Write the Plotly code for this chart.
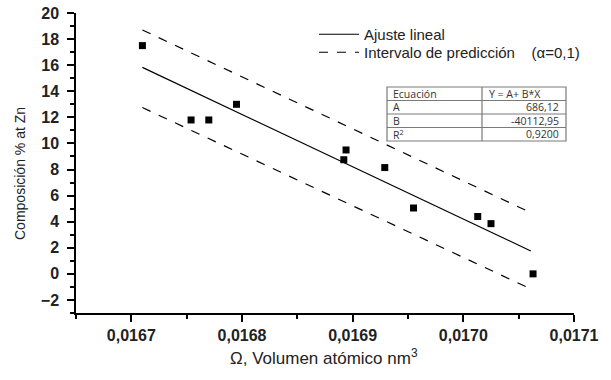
import plotly.graph_objects as go

# Data
omega = [0.016710, 0.016754, 0.016770, 0.016795, 0.016894, 0.016892,
         0.016929, 0.016955, 0.017013, 0.017025, 0.017063]
comp_zn = [17.5, 11.8, 11.8, 13.0, 9.5, 8.75, 8.15, 5.05, 4.4, 3.85, 0.0]

fit_A = 686.12
fit_B = -40112.95
fit_R2 = 0.9200
fit_x = [0.01671, 0.017061]
fit_y = [fit_A + fit_B * x for x in fit_x]

band_x = [0.01671, 0.017057]
band_upper = [18.7, 4.85]
band_lower = [12.75, -1.0]

x_ticks = [0.0167, 0.0168, 0.0169, 0.0170, 0.0171]
y_ticks = list(range(-2, 21, 2))

table_rows = [("Ecuación", "Y = A+ B*X"),
              ("A", "686,12"),
              ("B", "-40112,95"),
              ("R<sup>2</sup>", "0,9200")]

W, H = 611, 380
L, R, T, B = 76, 37, 13, 67
PW, PH = W - L - R, H - T - B


def px(x):
    return (x - L) / PW


def py(y):
    return (H - B - y) / PH


fig = go.Figure()

NB = "\u00a0"
fig.add_trace(go.Scatter(x=fit_x, y=fit_y, mode="lines", name="Ajuste lineal",
                         legend="legend",
                         line=dict(color="black", width=1.2)))
fig.add_trace(go.Scatter(x=band_x, y=band_upper, mode="lines",
                         name="Intervalo de predicción" + NB * 4 + "(\u03b1=0,1)",
                         legend="legend2",
                         line=dict(color="black", width=1.2, dash="dash")))
fig.add_trace(go.Scatter(x=band_x, y=band_lower, mode="lines", showlegend=False,
                         line=dict(color="black", width=1.2, dash="dash")))
fig.add_trace(go.Scatter(x=omega, y=comp_zn, mode="markers", showlegend=False,
                         marker=dict(symbol="square", size=7, color="black")))

axis_common = dict(showline=True, linecolor="black", linewidth=1.5,
                   ticks="outside", ticklen=7, tickwidth=1.5, tickcolor="black",
                   showgrid=False, zeroline=False, automargin=False,
                   tickfont=dict(family="Liberation Sans, Arial", size=16,
                                 color="#222", weight="bold"))

fig.update_xaxes(range=[0.01665, 0.0171], tickvals=x_ticks, tickformat=".4f",
                 minor=dict(dtick=0.00005, tick0=0.01665, ticks="outside", ticklen=4,
                            tickwidth=1.5, tickcolor="black"),
                 **axis_common)
fig.update_yaxes(range=[-3, 20], tickvals=y_ticks, ticklabelstandoff=5,
                 minor=dict(dtick=1, tick0=-3, ticks="outside", ticklen=4,
                            tickwidth=1.5, tickcolor="black"),
                 **axis_common)

annotations = [
    dict(text="Composición % at Zn", textangle=-90, x=px(20), y=py(174),
         xref="paper", yref="paper", xanchor="center", yanchor="middle",
         showarrow=False,
         font=dict(family="Liberation Sans, Arial", size=14, color="#222")),
    dict(text="\u03a9, Volumen atómico nm<sup>3</sup>", x=px(324), y=py(357),
         xref="paper", yref="paper", xanchor="center", yanchor="middle",
         showarrow=False,
         font=dict(family="Liberation Sans, Arial", size=17, color="#222")),
]

shapes = []
tx0, tx1, tdiv = 387, 566, 482
ty = [87, 100.5, 114, 127.5, 141]
line_c = "#7a7a7a"
shapes.append(dict(type="rect", xref="paper", yref="paper", x0=px(tx0), x1=px(tx1),
                   y0=py(ty[0]), y1=py(ty[-1]), line=dict(color=line_c, width=1.2),
                   fillcolor="white", layer="above"))
shapes.append(dict(type="line", xref="paper", yref="paper", x0=px(tdiv), x1=px(tdiv),
                   y0=py(ty[0]), y1=py(ty[-1]), line=dict(color=line_c, width=1.2)))
for yy in ty[1:-1]:
    shapes.append(dict(type="line", xref="paper", yref="paper", x0=px(tx0), x1=px(tx1),
                       y0=py(yy), y1=py(yy), line=dict(color=line_c, width=1.2)))

tfont = dict(family="Open Sans, Noto Sans", size=10.5, color="#333")
for i, (c1, c2) in enumerate(table_rows):
    yc = (ty[i] + ty[i + 1]) / 2
    annotations.append(dict(text=c1, x=px(tx0 + 4), y=py(yc), xref="paper", yref="paper",
                            xanchor="left", yanchor="middle", showarrow=False, font=tfont))
    if i == 0:
        annotations.append(dict(text=c2, x=px(tdiv + 5), y=py(yc), xref="paper",
                                yref="paper", xanchor="left", yanchor="middle",
                                showarrow=False, font=tfont))
    else:
        annotations.append(dict(text=c2, x=px(tx1 - 5), y=py(yc), xref="paper",
                                yref="paper", xanchor="right", yanchor="middle",
                                showarrow=False, font=tfont))

leg_font = dict(family="Liberation Sans, Arial", size=15, color="#222")
fig.update_layout(
    width=W, height=H,
    margin=dict(l=L, r=R, t=T, b=B, autoexpand=False),
    paper_bgcolor="white", plot_bgcolor="white",
    separators=",.",
    showlegend=True,
    legend=dict(x=px(314), y=py(18), xanchor="left", yanchor="top",
                itemwidth=40, bgcolor="rgba(0,0,0,0)", font=leg_font),
    legend2=dict(x=px(314), y=py(36), xanchor="left", yanchor="top",
                 itemwidth=40, bgcolor="rgba(0,0,0,0)", font=leg_font),
    annotations=annotations,
    shapes=shapes,
)

fig.write_html("out.html")
